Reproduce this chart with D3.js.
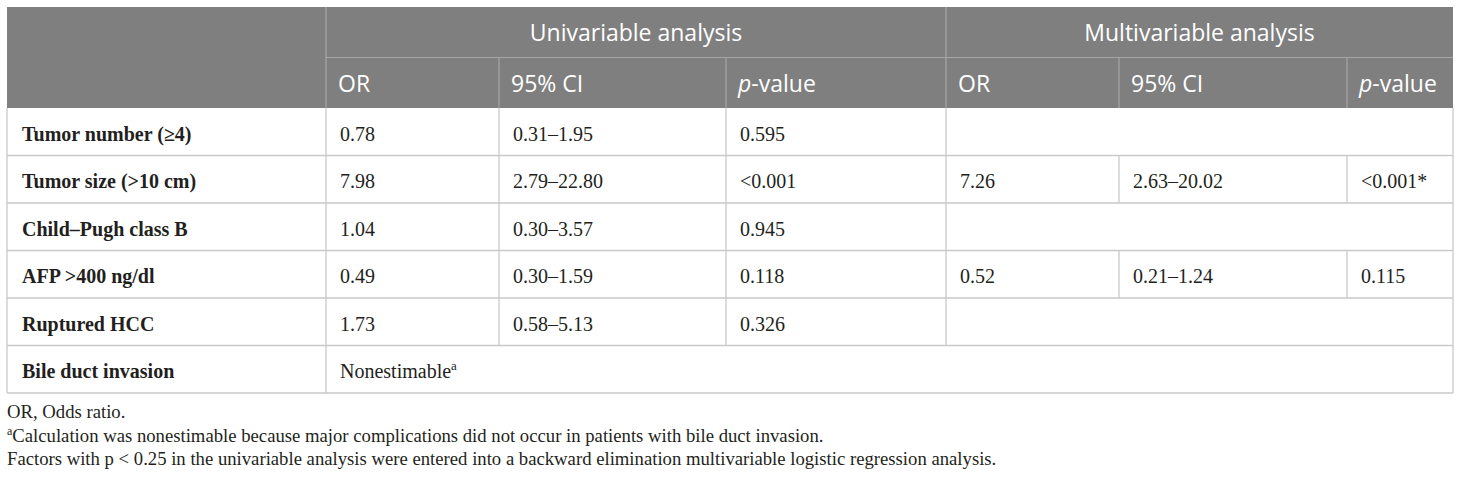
<!DOCTYPE html>
<html>
<head>
<meta charset="utf-8">
<script src="https://cdn.jsdelivr.net/npm/d3@7"></script>
<style>
  body { margin: 0; background: #fff; }
</style>
</head>
<body>
<div id="table-area"></div>
<script>
// table content
const groups = ["Univariable analysis", "Multivariable analysis"];
const subHeaders = ["OR", "95% CI", "p-value", "OR", "95% CI", "p-value"];
const factors = ["Tumor number (\u22654)", "Tumor size (>10 cm)", "Child\u2013Pugh class B",
    "AFP >400 ng/dl", "Ruptured HCC", "Bile duct invasion"];
const uniOR = ["0.78", "7.98", "1.04", "0.49", "1.73", "Nonestimable"];
const uniCI = ["0.31\u20131.95", "2.79\u201322.80", "0.30\u20133.57", "0.30\u20131.59", "0.58\u20135.13", ""];
const uniP = ["0.595", "<0.001", "0.945", "0.118", "0.326", ""];
const multiOR = ["", "7.26", "", "0.52", "", ""];
const multiCI = ["", "2.63\u201320.02", "", "0.21\u20131.24", "", ""];
const multiP = ["", "<0.001*", "", "0.115", "", ""];
const footnotes = [
    { sup: "", text: "OR, Odds ratio." },
    { sup: "a", text: "Calculation was nonestimable because major complications did not occur in patients with bile duct invasion." },
    { sup: "", text: "Factors with p < 0.25 in the univariable analysis were entered into a backward elimination multivariable logistic regression analysis." }
];

class TableVis {
    constructor(_parentElement) {
        this.parentElement = _parentElement;
        this.initVis();
    }

    initVis() {
        let vis = this;

        vis.width = 1460;
        vis.height = 478;

        vis.svg = d3.select("#" + vis.parentElement).append("svg")
            .attr("width", vis.width)
            .attr("height", vis.height);

        // column edges (label col + 6 value cols)
        vis.colEdges = [7, 326, 499, 726, 946, 1119, 1347, 1453];
        vis.x = d3.scaleOrdinal()
            .domain(d3.range(vis.colEdges.length))
            .range(vis.colEdges);

        vis.top = 7;
        vis.headTop = d3.scaleBand().domain([0, 1]).range([vis.top, 108]);
        vis.y = d3.scaleBand()
            .domain(d3.range(factors.length))
            .range([108, 393]);

        vis.headFill = "#7f7f7f";
        vis.lineCol = "#c9c9c9";
        vis.textCol = "#231f20";
        vis.serif = "'Liberation Serif', 'DejaVu Serif', serif";
        vis.sans = "'Open Sans', sans-serif";

        vis.updateVis();
    }

    updateVis() {
        let vis = this;
        let x = vis.x, y = vis.y, hy = vis.headTop;
        let left = x(0), right = x(7);

        // header background
        vis.svg.append("rect")
            .attr("x", left).attr("y", vis.top)
            .attr("width", right - left).attr("height", y.range()[0] - vis.top)
            .attr("fill", vis.headFill);

        // header lines
        let g = vis.svg.append("g").attr("stroke", "#a6a6a6").attr("stroke-width", 1.2);
        g.append("line").attr("x1", x(1)).attr("x2", right)
            .attr("y1", hy(1)).attr("y2", hy(1));
        [1, 4].forEach(i => g.append("line").attr("x1", x(i)).attr("x2", x(i))
            .attr("y1", vis.top).attr("y2", y.range()[0]));
        [2, 3, 5, 6].forEach(i => g.append("line").attr("x1", x(i)).attr("x2", x(i))
            .attr("y1", hy(1)).attr("y2", y.range()[0]));

        // group headers
        vis.svg.selectAll(".grp").data(groups).join("text")
            .attr("class", "grp")
            .attr("x", (d, i) => (x(1 + i * 3) + x(4 + i * 3)) / 2)
            .attr("y", hy(0) + hy.bandwidth() / 2 + 9)
            .attr("text-anchor", "middle")
            .attr("fill", "#fff")
            .style("font-family", vis.sans)
            .style("font-size", "23px")
            .text(d => d);

        // sub headers
        let sh = vis.svg.selectAll(".sub").data(subHeaders).join("text")
            .attr("class", "sub")
            .attr("x", (d, i) => x(i + 1) + 12)
            .attr("y", hy(1) + hy.bandwidth() / 2 + 9.5)
            .attr("fill", "#fff")
            .style("font-family", vis.sans)
            .style("font-size", "23px");
        sh.each(function (d) {
            let t = d3.select(this);
            if (d.startsWith("p-")) {
                t.append("tspan").style("font-style", "italic").text("p");
                t.append("tspan").text(d.slice(1));
            } else t.text(d);
        });

        // grid lines for body
        let bg = vis.svg.append("g").attr("stroke", vis.lineCol).attr("stroke-width", 1.3).attr("fill", "none");
        factors.forEach((f, r) => {
            let y0 = y(r), y1 = y(r) + y.bandwidth();
            bg.append("line").attr("x1", left).attr("x2", right).attr("y1", y1).attr("y2", y1);
            let inner;
            if (r === factors.length - 1) inner = [1];
            else if (multiOR[r] === "") inner = [1, 2, 3, 4];
            else inner = [1, 2, 3, 4, 5, 6];
            inner.forEach(i => bg.append("line").attr("x1", x(i)).attr("x2", x(i)).attr("y1", y0).attr("y2", y1));
        });
        bg.append("line").attr("x1", left).attr("x2", left).attr("y1", y.range()[0]).attr("y2", y.range()[1]);
        bg.append("line").attr("x1", right).attr("x2", right).attr("y1", y.range()[0]).attr("y2", y.range()[1]);

        // body text
        let cols = [uniOR, uniCI, uniP, multiOR, multiCI, multiP];
        let cells = [];
        factors.forEach((f, r) => {
            cells.push({ r: r, c: 0, v: f, bold: true });
            cols.forEach((arr, c) => { if (arr[r] !== "") cells.push({ r: r, c: c + 1, v: arr[r] }); });
        });

        let ct = vis.svg.selectAll(".cell").data(cells).join("text")
            .attr("class", "cell")
            .attr("x", d => x(d.c) + (d.c === 0 ? 15 : 14))
            .attr("y", d => y(d.r) + y.bandwidth() / 2 + 9)
            .attr("fill", vis.textCol)
            .style("font-family", vis.serif)
            .style("font-size", "20px")
            .style("font-weight", d => d.bold ? "bold" : "normal");
        ct.each(function (d) {
            let t = d3.select(this);
            if (d.v === "Nonestimable") {
                t.append("tspan").text(d.v);
                t.append("tspan").attr("dy", -8).style("font-size", "13px").text("a");
            } else t.text(d.v);
        });

        // footnotes (baselines)
        let fy = d3.scalePoint().domain(d3.range(footnotes.length)).range([418, 465]);
        let fn = vis.svg.selectAll(".foot").data(footnotes).join("text")
            .attr("class", "foot")
            .attr("x", left)
            .attr("y", (d, i) => fy(i))
            .attr("fill", vis.textCol)
            .style("font-family", vis.serif)
            .style("font-size", "18.7px");
        fn.each(function (d) {
            let t = d3.select(this);
            if (d.sup) t.append("tspan").attr("dy", -7).style("font-size", "12px").text(d.sup);
            t.append("tspan").attr("dy", d.sup ? 7 : null).text(d.text);
        });
    }
}

new TableVis("table-area");
</script>
</body>
</html>
